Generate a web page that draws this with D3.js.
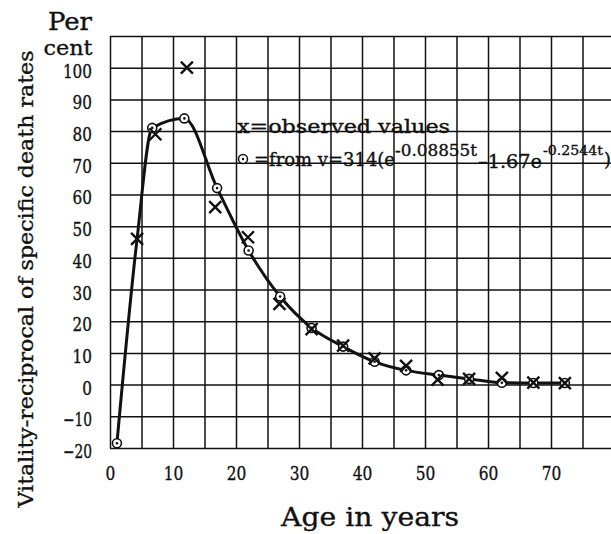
<!DOCTYPE html>
<html>
<head>
<meta charset="utf-8">
<script src="https://cdn.jsdelivr.net/npm/d3@7/dist/d3.min.js"></script>
<style>
  body { margin: 0; background: #fff; }
  text { font-family: "DejaVu Serif", serif; fill: #111; stroke: #111; stroke-width: 0.35px; }
</style>
</head>
<body>
<div id="chart"></div>
<script>
// observed values (x marks)
const obsAges = [4.3, 7.2, 12.2, 16.7, 21.9, 26.9, 32, 37, 42, 47, 52, 57, 62.2, 67.2, 72.2];
const obsVals = [46, 79, 100, 56, 46.5, 25.5, 17.5, 12.3, 8.3, 5.9, 1.6, 1.8, 2.1, 0.6, 0.5];

// values from the fitted formula (circles)
const fitAges = [1.1, 6.7, 11.8, 17, 22, 27, 32, 37, 42, 47, 52.2, 57, 62.2, 67.2, 72.2];
const fitVals = [-18.5, 81, 84, 62, 42.3, 27.8, 17.9, 12, 7.2, 4.5, 3, 1.8, 0.6, 0.5, 0.5];

// the drawn curve passes through the circles and the observed point at age 4
const curveAges = [1.1, 4.3, 6.7, 11.8, 17, 22, 27, 32, 37, 42, 47, 52.2, 57, 62.2, 67.2, 72.2];
const curveVals = [-18.5, 46, 81, 84, 62, 42.3, 27.8, 17.9, 12, 7.2, 4.5, 3, 1.8, 0.6, 0.5, 0.5];

const xTicks = [0, 10, 20, 30, 40, 50, 60, 70];
const yTicks = [-20, -10, 0, 10, 20, 30, 40, 50, 60, 70, 80, 90, 100];

const width = 611, height = 534;
const ink = "#111";

const svg = d3.select("#chart").append("svg")
    .attr("width", width)
    .attr("height", height);

const x = d3.scaleLinear().domain([0, 80]).range([110, 614]);
const y = d3.scaleLinear().domain([-20, 110]).range([448, 36]);

// grid, every 5 years and every 10 per cent
svg.append("g")
    .attr("transform", "translate(0," + y(-20) + ")")
    .call(d3.axisBottom(x).tickValues(d3.range(0, 81, 5)).tickSize(y(110) - y(-20)).tickFormat(""))
    .call(g => g.select(".domain").remove())
    .selectAll("line").attr("stroke", ink).attr("stroke-width", 1.5);

svg.append("g")
    .attr("transform", "translate(" + x(0) + ",0)")
    .call(d3.axisLeft(y).tickValues(d3.range(-20, 111, 10)).tickSize(x(0) - x(80)).tickFormat(""))
    .call(g => g.select(".domain").remove())
    .selectAll("line").attr("stroke", ink).attr("stroke-width", 1.5);

// tick labels
svg.append("g")
    .attr("transform", "translate(" + x(0) + ",0)")
    .call(d3.axisLeft(y).tickValues(yTicks).tickSize(0).tickPadding(18))
    .call(g => g.select(".domain").remove())
    .selectAll("text")
    .attr("font-family", "DejaVu Serif, serif")
    .attr("font-size", 19)
    .attr("dy", "0.5em")
    .attr("textLength", d => String(d).length * 9.7)
    .attr("lengthAdjust", "spacingAndGlyphs")
    .attr("fill", ink);

svg.append("g")
    .attr("transform", "translate(0," + y(-20) + ")")
    .call(d3.axisBottom(x).tickValues(xTicks).tickSize(0).tickPadding(19))
    .call(g => g.select(".domain").remove())
    .selectAll("text")
    .attr("font-family", "DejaVu Serif, serif")
    .attr("font-size", 19)
    .attr("textLength", d => String(d).length * 9.8)
    .attr("lengthAdjust", "spacingAndGlyphs")
    .attr("fill", ink);

// titles
function label(txt, px, py, size, len, anchor) {
  return svg.append("text")
      .attr("x", px).attr("y", py)
      .attr("font-size", size)
      .attr("text-anchor", anchor || "start")
      .attr("textLength", len)
      .attr("lengthAdjust", "spacingAndGlyphs")
      .text(txt);
}

label("Per", 70, 30, 24, 44, "middle");
label("cent", 68, 55, 21, 49, "middle");
label("Age in years", 370, 526, 26, 178, "middle");
label("Vitality-reciprocal of specific death rates", 0, 0, 21, 457, "middle")
    .attr("transform", "translate(33,279) rotate(-90)");

// legend
label("x=observed  values", 237, 133, 18, 213);
label("=from v=314(e", 254, 166, 18, 141);
label("-0.08855t", 395, 156, 16, 82);
label("\u20131.67e", 478, 168, 18, 64);
label("-0.2544t", 543, 155, 13, 60);
label(")", 604, 166, 18, 7);

svg.append("circle").attr("cx", 243).attr("cy", 159).attr("r", 4.5)
    .attr("fill", "#fff").attr("stroke", ink).attr("stroke-width", 1.5);
svg.append("circle").attr("cx", 243).attr("cy", 159).attr("r", 1.2).attr("fill", ink);

// curve
const curve = curveAges.map((a, i) => [a, curveVals[i]]);
svg.append("path")
    .datum(curve)
    .attr("fill", "none")
    .attr("stroke", ink)
    .attr("stroke-width", 3)
    .attr("d", d3.line().x(d => x(d[0])).y(d => y(d[1])).curve(d3.curveMonotoneX));

// fitted circles
const fit = fitAges.map((a, i) => [a, fitVals[i]]);
const cg = svg.append("g").selectAll("g").data(fit).join("g")
    .attr("transform", d => "translate(" + x(d[0]) + "," + y(d[1]) + ")");
cg.append("circle").attr("r", 4.5).attr("fill", "#fff").attr("stroke", ink).attr("stroke-width", 1.6);
cg.append("circle").attr("r", 1.3).attr("fill", ink);

// observed crosses
const obs = obsAges.map((a, i) => [a, obsVals[i]]);
svg.append("g").selectAll("path").data(obs).join("path")
    .attr("transform", d => "translate(" + x(d[0]) + "," + y(d[1]) + ")")
    .attr("d", "M-6,-6L6,6M-6,6L6,-6")
    .attr("fill", "none")
    .attr("stroke", ink)
    .attr("stroke-width", 2.4);
</script>
</body>
</html>
